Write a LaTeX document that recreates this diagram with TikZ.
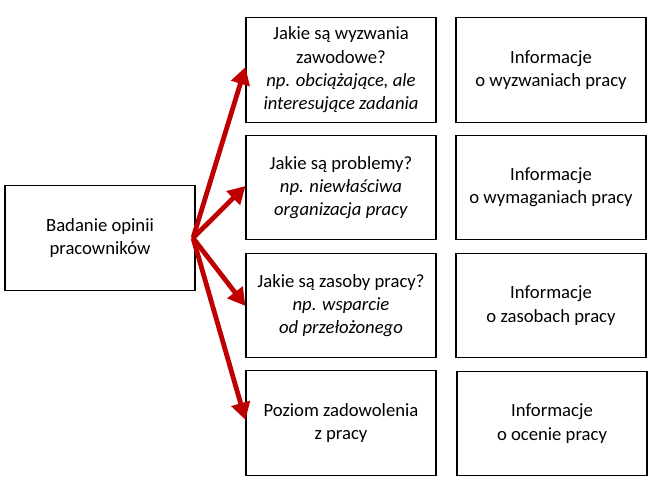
\documentclass[tikz,border=0pt]{standalone}
\usepackage{fontspec}
\setmainfont{Carlito}
\usetikzlibrary{arrows.meta,positioning}

\tikzset{
  box/.style={draw, line width=0.8pt, minimum width=142.5pt, minimum height=78.5pt,
    align=center, font=\fontsize{14}{17.5}\selectfont, inner sep=2pt},
  redarrow/.style={draw=red!75!black, line width=3.6pt, -{Triangle[length=13pt,width=14pt]}}
}

\begin{document}
\begin{tikzpicture}[x=0.75pt,y=-0.75pt]
\useasboundingbox (0,0) rectangle (658,484);
\node[box] (survey) at (100,238) {Badanie opinii\\pracowników};

\node[box] (q1) at (341,70) {Jakie są wyzwania\\zawodowe?\\\textit{np. obciążające, ale}\\\textit{interesujące zadania}};
\node[box] (q2) at (341,187.5) {Jakie są problemy?\\\textit{np. niewłaściwa}\\\textit{organizacja pracy}};
\node[box] (q3) at (341,305.5) {Jakie są zasoby pracy?\\\textit{np. wsparcie}\\\textit{od przełożonego}};
\node[box] (q4) at (341,423) {Poziom zadowolenia\\z pracy};

\node[box] (i1) at (551,70) {Informacje\\o wyzwaniach pracy};
\node[box] (i2) at (551,187.5) {Informacje\\o wymaganiach pracy};
\node[box] (i3) at (551,305.5) {Informacje\\o zasobach pracy};
\node[box] (i4) at (552,423.5) {Informacje\\o ocenie pracy};

% arrows from the survey box
\coordinate (src) at (193,238);
\path[redarrow] (src) -- (q1.west |- 0,67);
\path[redarrow] (src) -- (q2.west |- 0,186);
\path[redarrow] (src) -- (q3.west |- 0,306);
\path[redarrow] (src) -- (q4.west |- 0,420);
\end{tikzpicture}
\end{document}
